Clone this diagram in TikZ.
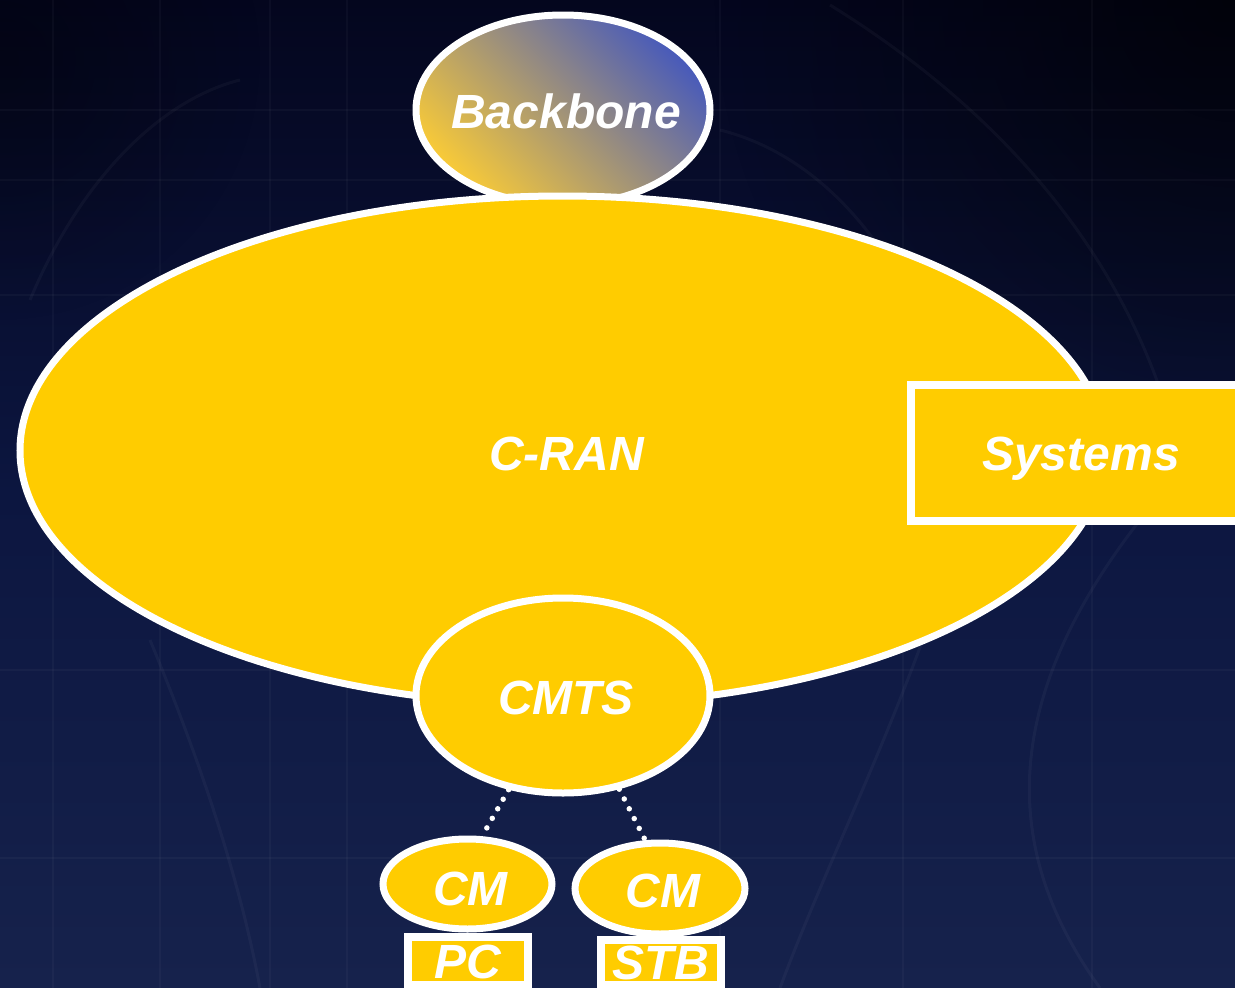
\documentclass[tikz,border=0pt]{standalone}
\usepackage{fontspec}
\setmainfont{Liberation Sans}
\usetikzlibrary{shapes.geometric,fadings}

\definecolor{gold}{RGB}{255,204,0}
\definecolor{skytop}{RGB}{4,6,30}
\definecolor{skymid}{RGB}{12,22,64}
\definecolor{skylow}{RGB}{22,34,76}
\definecolor{bbblue}{RGB}{72,90,186}
\definecolor{bbgold}{RGB}{248,202,56}

\tikzfading[name=darkspot, inner color=transparent!0, outer color=transparent!100]

\begin{document}
\begin{tikzpicture}[x=1pt,y=-1pt,
  lbl/.style={text=white, font=\fontsize{48}{48}\selectfont\bfseries\itshape,
              text height=34.5pt, text depth=0pt, inner sep=0pt},
  blob/.style={ellipse, draw=white, line width=7pt, fill=gold, inner sep=0pt},
  tagbox/.style={rectangle, draw=white, line width=8pt, fill=gold, lbl},
  link/.style={white, line width=5.5pt, line cap=round, dash pattern=on 0pt off 11pt},
  faint/.style={white, opacity=0.03, line width=1.5pt},
  faintarc/.style={white, opacity=0.035, line width=3pt}]

  % page frame
  \useasboundingbox (0,0) rectangle (1235,988);
  \clip (0,0) rectangle (1235,988);

  % backdrop: dark navy with a darker top-right corner
  \shade[top color=skytop, bottom color=skylow, middle color=skymid]
        (0,0) rectangle (1235,988);
  \fill[black, fill opacity=0.65, path fading=darkspot] (1235,0) circle (520);
  \fill[black, fill opacity=0.35, path fading=darkspot] (0,60) circle (260);

  % faint map grid and arcs
  \foreach \gx in {53,160,270,347,720,903,1092}
    \draw[faint] (\gx,0) -- (\gx,988);
  \foreach \gy in {110,180,295,670,858}
    \draw[faint] (0,\gy) -- (1235,\gy);
  \draw[faintarc] (830,5) .. controls (1000,110) and (1120,250) .. (1170,420);
  \draw[faintarc] (720,130) .. controls (800,150) and (860,210) .. (900,280);
  \draw[faintarc] (30,300) .. controls (80,180) and (160,100) .. (240,80);
  \draw[faintarc] (150,640) .. controls (200,760) and (240,880) .. (260,988);
  \draw[faintarc] (1140,520) .. controls (1000,700) and (1000,850) .. (1100,988);
  \draw[faintarc] (930,620) .. controls (880,760) and (820,880) .. (780,988);

  % backbone cloud, partly hidden behind the access network
  \node[ellipse, draw=white, line width=7pt, inner sep=0pt,
        top color=bbblue, bottom color=bbgold, shading angle=-45,
        minimum width=294pt, minimum height=190pt,
        label={[lbl, xshift=3pt, yshift=-1pt]center:Backbone}]
        (backbone) at (563,110) {};

  % cable regional access network
  \node[blob, minimum width=1085pt, minimum height=509pt,
        label={[lbl, xshift=4pt, yshift=-3pt]center:C-RAN}]
        (cran) at (562.5,450.5) {};

  % operator systems
  \node[tagbox, minimum width=340pt, minimum height=136pt]
        (systems) at (1081,453) {Systems};

  % head end
  \node[blob, minimum width=294pt, minimum height=195pt,
        label={[lbl, xshift=3pt, yshift=-1.5pt]center:CMTS}]
        (cmts) at (563,695.5) {};

  % cable modems
  \node[blob, minimum width=169pt, minimum height=90pt,
        label={[lbl, xshift=3pt, yshift=-4pt]center:CM}]
        (cml) at (467.5,884) {};
  \node[blob, minimum width=170pt, minimum height=91pt,
        label={[lbl, xshift=3pt, yshift=-2pt]center:CM}]
        (cmr) at (660,888.5) {};

  % customer premises equipment
  \node[tagbox, minimum width=120.5pt, minimum height=47.5pt]
        (pc) at (467.75,960.75) {PC};
  \node[tagbox, minimum width=119.5pt, minimum height=45pt]
        (stb) at (660.75,962.5) {STB};

  % coax drops from the head end to the modems
  \draw[link] (cmts.240) -- (cml.73);
  \draw[link] (cmts.301) -- (cmr.107);
\end{tikzpicture}
\end{document}
